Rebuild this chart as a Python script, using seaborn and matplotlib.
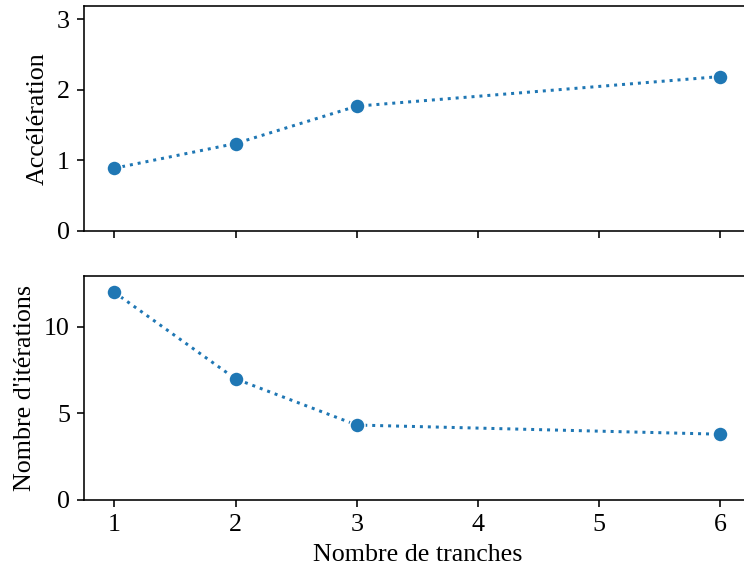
import matplotlib
matplotlib.use("Agg")
import matplotlib.pyplot as plt
import seaborn as sns
import pandas as pd

# données
tranches = [1, 2, 3, 6]
acceleration = [0.89, 1.24, 1.77, 2.19]
iterations = [12, 7, 4.33, 3.8]

sns.set_style("ticks")
plt.rcParams["font.family"] = ["Liberation Serif", "DejaVu Serif"]
plt.rcParams["font.size"] = 13
for k in ["text.color", "axes.labelcolor", "xtick.color", "ytick.color", "axes.edgecolor"]:
    plt.rcParams[k] = "black"

df = pd.DataFrame({"tranches": tranches, "acc": acceleration, "it": iterations})

fig = plt.figure(figsize=(744 / 144, 567 / 144), dpi=144)
ax1 = fig.add_axes([0.1129, 0.5926, 0.896, 0.3968])
ax2 = fig.add_axes([0.1129, 0.1182, 0.896, 0.395], sharex=ax1)

sns.lineplot(data=df, x="tranches", y="acc", ax=ax1, marker="o", linestyle=":",
             markersize=7.5, color="#1f77b4")
sns.lineplot(data=df, x="tranches", y="it", ax=ax2, marker="o", linestyle=":",
             markersize=7.5, color="#1f77b4")

for ax in (ax1, ax2):
    for s in ax.spines.values():
        s.set_visible(True)
        s.set_linewidth(0.8)
    ax.tick_params(labelsize=13)

ax1.set_xlim(0.75, 6.25)
ax1.set_ylim(0, 3.19)
ax2.set_ylim(0, 12.94)
ax1.set_yticks([0, 1, 2, 3])
ax2.set_yticks([0, 5, 10])
ax2.set_xticks([1, 2, 3, 4, 5, 6])
ax1.tick_params(labelbottom=False)

ax1.set_xlabel("")
ax1.set_ylabel("Accélération", fontsize=13)
ax2.set_ylabel("Nombre d'itérations", fontsize=13)
ax2.set_xlabel("Nombre de tranches", fontsize=13)

fig.savefig("out.png", dpi=144)
